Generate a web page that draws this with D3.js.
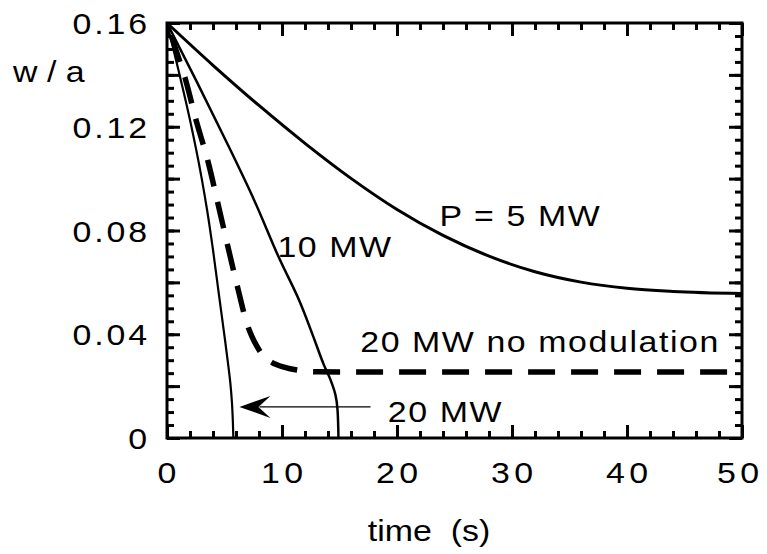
<!DOCTYPE html>
<html>
<head>
<meta charset="utf-8">
<script src="https://cdn.jsdelivr.net/npm/d3@7"></script>
<style>
  html, body { margin: 0; padding: 0; background: #fff; }
  svg text { font-family: "Liberation Sans", Arial, Helvetica, sans-serif; fill: #000; }
</style>
</head>
<body>
<svg id="chart" width="767" height="554"></svg>
<script>
// Island width decay w/a versus time for several heating powers
const timeTicks = [0, 10, 20, 30, 40, 50];
const widthTicks = [0, 0.04, 0.08, 0.12, 0.16];
const widthTickLabels = ["0", "0.04", "0.08", "0.12", "0.16"];

const p5Time  = [0, 4, 8, 12, 16, 20, 24, 28, 32, 36, 40, 44, 50];
const p5Width = [0.16, 0.1437, 0.1282, 0.1136, 0.1001, 0.0881, 0.0781, 0.0701, 0.0641, 0.0601, 0.0577, 0.0565, 0.0557];

const p10Time  = [0, 2.52, 5.09, 7.57, 9.83, 11.48, 12.83, 13.65, 14.22, 14.65, 14.83, 14.91];
const p10Width = [0.16, 0.138, 0.1149, 0.0918, 0.0686, 0.0532, 0.0378, 0.0281, 0.0224, 0.0166, 0.0108, 0];

const p20Time  = [0, 1, 2, 3, 3.5, 4, 4.5, 5, 5.3, 5.5, 5.65, 5.73, 5.77];
const p20Width = [0.16, 0.1418, 0.1226, 0.1005, 0.0875, 0.0725, 0.0558, 0.0393, 0.029, 0.0215, 0.0135, 0.006, 0];

const noModTime  = [0, 1, 1.56, 2.5, 3.6, 4.46, 5.33, 6.2, 6.9, 7.4, 7.8, 8.5, 9.1, 10.1, 11.3, 13, 50];
const noModWidth = [0.16, 0.1467, 0.139, 0.123, 0.106, 0.0898, 0.0731, 0.057, 0.0448, 0.039, 0.0355, 0.031, 0.0292, 0.0274, 0.0262, 0.0255, 0.0254];

// curve annotations: text, time, w/a at baseline start
const labelText = ["P = 5 MW", "10 MW", "20 MW no modulation", "20 MW"];
const labelTime = [23.7, 9.6, 16.8, 19.2];
const labelWidth = [0.0817, 0.0698, 0.0333, 0.0063];

// arrow pointing at the 20 MW curve
const arrowFrom = [17.7, 0.012];
const arrowTo = [6.3, 0.012];

const svg = d3.select("#chart");
const plotLeft = 167, plotRight = 742, plotTop = 23, plotBottom = 438;

const x = d3.scaleLinear().domain([0, 50]).range([plotLeft, plotRight]);
const y = d3.scaleLinear().domain([0, 0.16]).range([plotBottom, plotTop]);

const fontSize = 30;
const stretch = 1.13;   // glyphs are set slightly wide

// ticks on all four sides, pointing inward
const xMinor = d3.range(0, 50.001, 2);
const xMajor = d3.range(0, 50.001, 10);
const yMinor = d3.range(0, 0.16001, 0.005);
const yMajor = d3.range(0, 0.16001, 0.02);

function tickGroup(axis, transform) {
  const g = svg.append("g").attr("transform", transform).call(axis);
  g.select(".domain").remove();
  g.selectAll(".tick line").attr("stroke", "#000").attr("stroke-width", 3);
  g.selectAll(".tick text").remove();
  return g;
}
const minorLen = 7, majorLen = 13;
tickGroup(d3.axisBottom(x).tickValues(xMinor).tickSize(-minorLen), `translate(0,${plotBottom})`);
tickGroup(d3.axisBottom(x).tickValues(xMajor).tickSize(-majorLen), `translate(0,${plotBottom})`);
tickGroup(d3.axisTop(x).tickValues(xMinor).tickSize(-minorLen), `translate(0,${plotTop})`);
tickGroup(d3.axisTop(x).tickValues(xMajor).tickSize(-majorLen), `translate(0,${plotTop})`);
tickGroup(d3.axisLeft(y).tickValues(yMinor).tickSize(-minorLen), `translate(${plotLeft},0)`);
tickGroup(d3.axisLeft(y).tickValues(yMajor).tickSize(-majorLen), `translate(${plotLeft},0)`);
tickGroup(d3.axisRight(y).tickValues(yMinor).tickSize(-minorLen), `translate(${plotRight},0)`);
tickGroup(d3.axisRight(y).tickValues(yMajor).tickSize(-majorLen), `translate(${plotRight},0)`);

// frame
svg.append("rect")
  .attr("x", plotLeft).attr("y", plotTop)
  .attr("width", plotRight - plotLeft).attr("height", plotBottom - plotTop)
  .attr("fill", "none").attr("stroke", "#000").attr("stroke-width", 3);

// text helper: places a wide-set label with its anchor at (px, py)
function label(px, py, str, anchor, spacing) {
  const shift = anchor === "middle" ? spacing / 2 : anchor === "end" ? spacing : 0;
  return svg.append("text")
    .attr("transform", `translate(${px},${py}) scale(${stretch},1)`)
    .attr("x", shift)
    .attr("text-anchor", anchor)
    .attr("font-size", fontSize)
    .attr("letter-spacing", spacing)
    .style("white-space", "pre")
    .text(str);
}

// tick labels
timeTicks.forEach(d => label(Math.min(x(d), 738), plotBottom + 45, d3.format("d")(d), "middle", 4));
widthTicks.forEach((d, i) => label(147, y(d) + 11, widthTickLabels[i], "end", 2.5));

// axis titles
label(13, 82, "w / a", "start", 0);
label(429, 541, "time  (s)", "middle", 0);

// curves
const zip = (a, b) => a.map((v, i) => [v, b[i]]);
const alongX = d3.line().x(d => x(d[0])).y(d => y(d[1])).curve(d3.curveMonotoneX);
const alongY = d3.line().x(d => x(d[0])).y(d => y(d[1])).curve(d3.curveMonotoneY);

svg.append("path").datum(zip(p5Time, p5Width)).attr("d", alongX)
  .attr("fill", "none").attr("stroke", "#000").attr("stroke-width", 3);
svg.append("path").datum(zip(p10Time, p10Width)).attr("d", alongY)
  .attr("fill", "none").attr("stroke", "#000").attr("stroke-width", 2.5);
svg.append("path").datum(zip(p20Time, p20Width)).attr("d", alongY)
  .attr("fill", "none").attr("stroke", "#000").attr("stroke-width", 2.2);
svg.append("path").datum(zip(noModTime, noModWidth)).attr("d", alongX)
  .attr("fill", "none").attr("stroke", "#000").attr("stroke-width", 5.5)
  .attr("stroke-dasharray", "27,16").attr("stroke-dashoffset", -14);

// annotations
labelText.forEach((t, i) => label(x(labelTime[i]), y(labelWidth[i]), t, "start", 1.4));

// arrow
const ax1 = x(arrowFrom[0]), ay1 = y(arrowFrom[1]);
const ax2 = x(arrowTo[0]), ay2 = y(arrowTo[1]);
svg.append("line").attr("x1", ax1).attr("y1", ay1).attr("x2", ax2 + 20).attr("y2", ay2)
  .attr("stroke", "#000").attr("stroke-width", 1.4);
svg.append("path")
  .attr("d", `M${ax2},${ay2} L${ax2 + 31},${ay2 - 11} L${ax2 + 19},${ay2} L${ax2 + 31},${ay2 + 11} Z`)
  .attr("fill", "#000");
</script>
</body>
</html>
